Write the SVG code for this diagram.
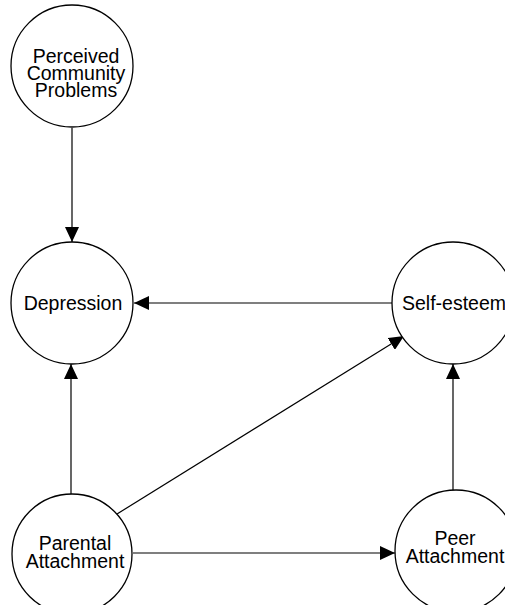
<svg xmlns="http://www.w3.org/2000/svg" width="505" height="605" viewBox="0 0 505 605">
<defs>
<marker id="ah" viewBox="0 0 15 14" refX="15" refY="7" markerWidth="15" markerHeight="14" markerUnits="userSpaceOnUse" orient="auto">
<path d="M0,0 L15,7 L0,14 Z" fill="#000"/>
</marker>
<style>
circle{fill:#fff;stroke:#000;stroke-width:1.3}
text{font-family:"Liberation Sans",Arial,sans-serif;font-size:19.5px;fill:#000;text-anchor:middle}
.c line{stroke:#000;stroke-width:1.2;marker-end:url(#ah)}
</style>
</defs>
<rect width="505" height="605" fill="#fff"/>
<g class="c" id="connectors">
<line x1="72" y1="128" x2="72" y2="242"/>
<line x1="392" y1="303" x2="134" y2="303"/>
<line x1="71" y1="494" x2="71" y2="364"/>
<line x1="117" y1="514" x2="404" y2="336"/>
<line x1="133" y1="553" x2="395" y2="553"/>
<line x1="453" y1="491" x2="453" y2="364"/>
</g>
<g id="perceived"><circle cx="72" cy="66" r="61"/><text x="76" y="63">Perceived</text><text x="76" y="80">Community</text><text x="76" y="97">Problems</text></g>
<g id="depression"><circle cx="72" cy="303" r="61"/><text x="73" y="310">Depression</text></g>
<g id="selfesteem"><circle cx="453" cy="303" r="61"/><text x="454" y="310">Self-esteem</text></g>
<g id="parental"><circle cx="72" cy="554" r="60"/><text x="75" y="550">Parental</text><text x="75" y="568">Attachment</text></g>
<g id="peer"><circle cx="456" cy="551" r="61"/><text x="455" y="545">Peer</text><text x="455" y="563">Attachment</text></g>
</svg>
